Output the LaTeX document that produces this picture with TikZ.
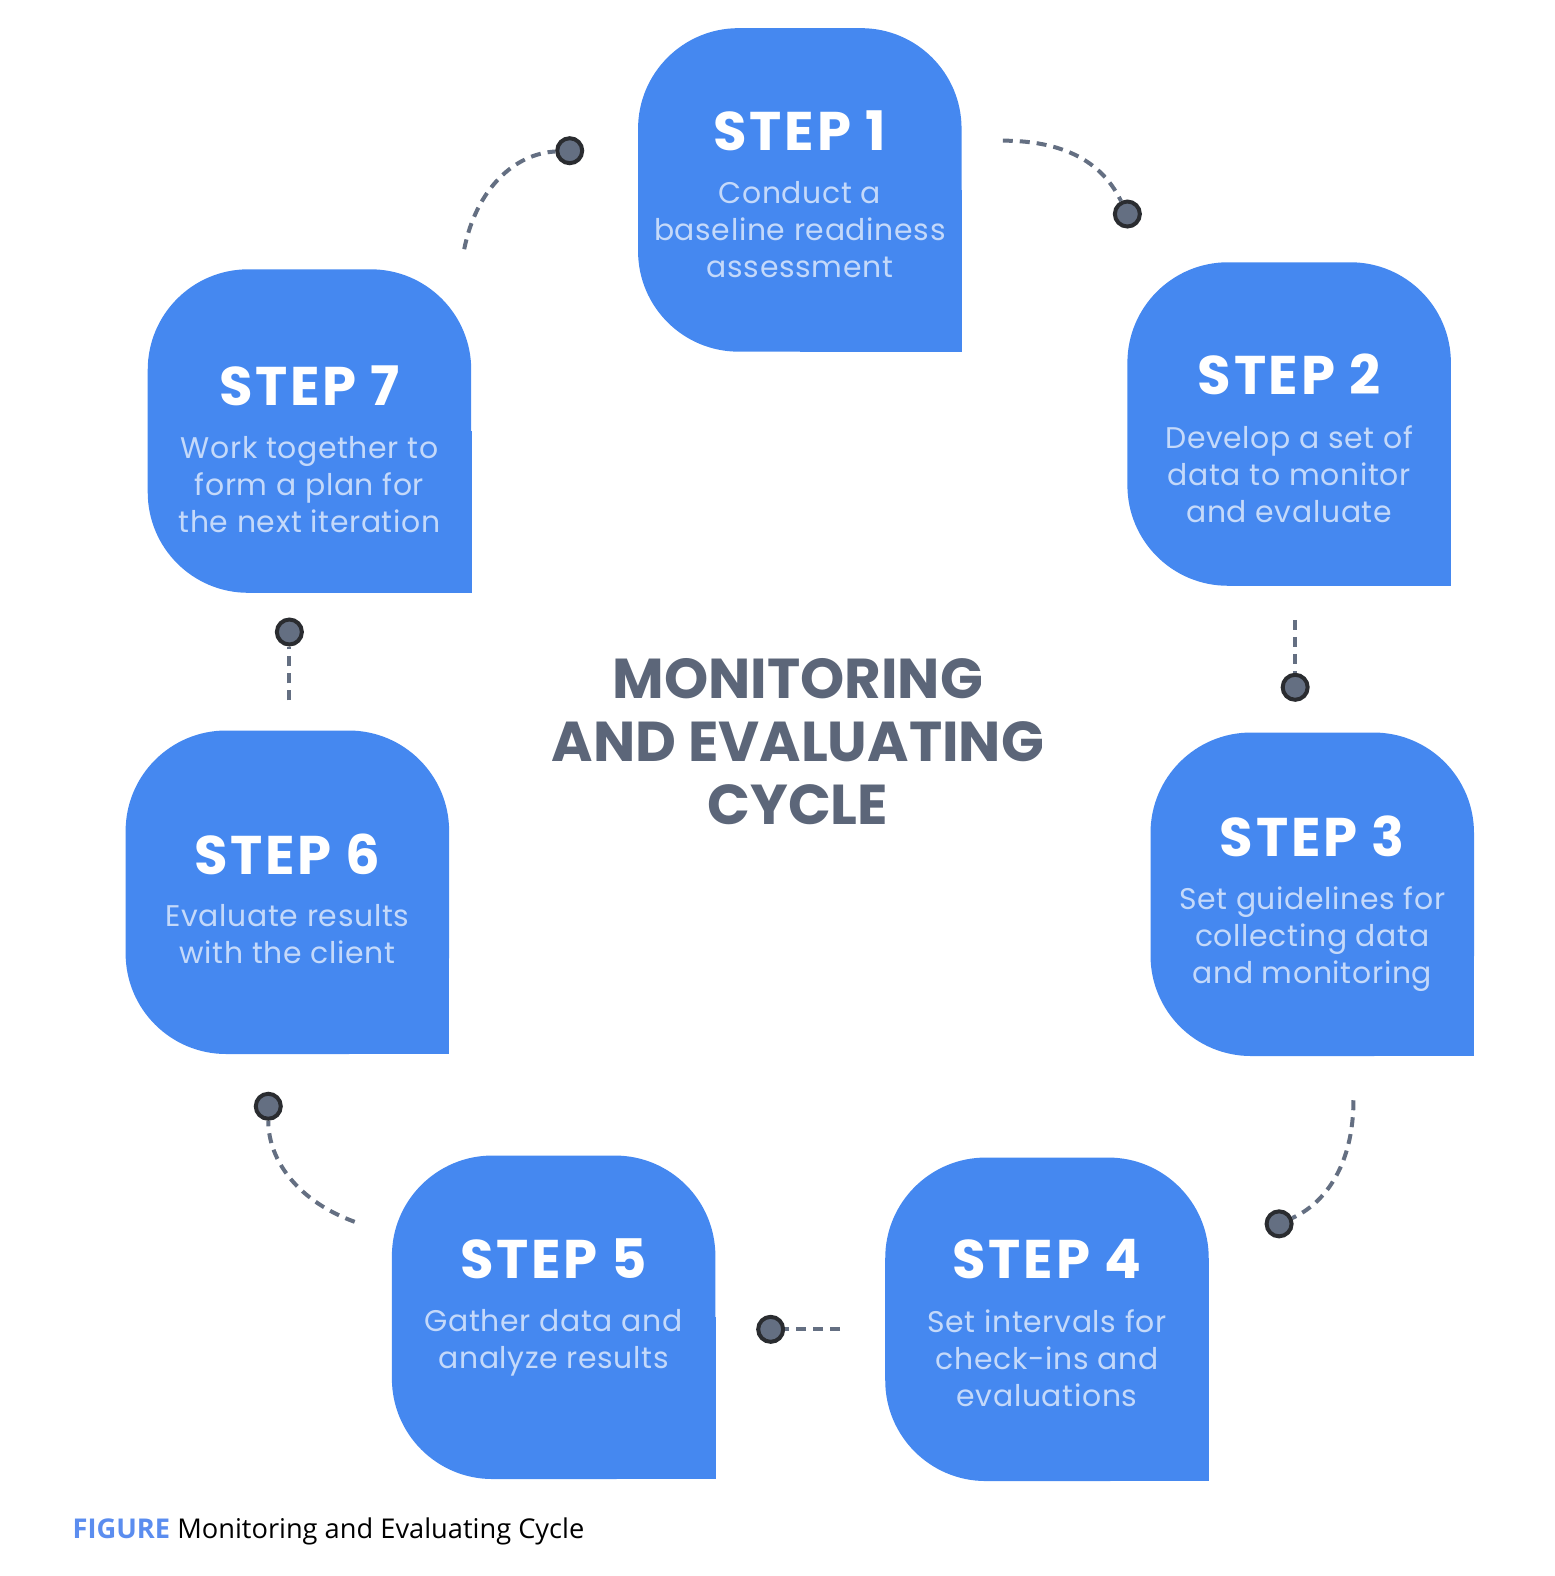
\documentclass[tikz,border=0pt]{standalone}
\usepackage{fontspec}
\setmainfont{Poppins}
\newfontfamily\capfont{Open Sans}
\usetikzlibrary{calc}
\usetikzlibrary{positioning}
\definecolor{stepblue}{HTML}{4588F0}
\definecolor{steplight}{HTML}{C4D9FA}
\definecolor{titlegray}{HTML}{5C6679}
\definecolor{linkgray}{HTML}{646F82}
\definecolor{dotedge}{HTML}{2A2C30}
\definecolor{figblue}{HTML}{5B8DEF}
\tikzstyle{stepshape}=[fill=stepblue,rounded corners=2.01cm,minimum width=6.47cm,minimum height=6.47cm,inner sep=0pt]
\tikzstyle{steptitle}=[text=white,inner sep=0pt,font=\fontsize{31}{31}\selectfont\bfseries\addfontfeature{LetterSpace=5}]
\tikzstyle{steptext}=[text=steplight,inner sep=0pt,anchor=north,align=center,font=\fontsize{17}{21.1}\selectfont\addfontfeature{LetterSpace=2.2}]
\tikzstyle{link}=[draw=linkgray,line width=0.08cm,dash pattern=on 0.2cm off 0.14cm]
\tikzstyle{linkdot}=[circle,fill=linkgray,draw=dotedge,line width=0.08cm,minimum size=0.5cm,inner sep=0pt]
\newcommand{\stepbox}[6]{
  % #1 name, (#2,#3) top left corner, #4 offset of the title, #5 title, #6 text
  \node[stepshape] (#1) at (#2+161,#3+161) {};
  \fill[stepblue] (#1.center) rectangle (#1.south east); % square corner
  \node[steptitle] (#1title) at (#2+161,#3+#4) {#5};
  \node[steptext] (#1text) at (#2+161,#3+#4+50) {#6};
}

\begin{document}
\begin{tikzpicture}[x=0.0201cm,y=-0.0201cm]
	\useasboundingbox (0,0) rectangle (31.08cm,-31.52cm);
	\stepbox{s1}{635}{28}{102}{STEP 1}{Conduct a\\baseline readiness\\assessment}
	\stepbox{s2}{1122}{261}{112}{STEP 2}{Develop a set of\\data to monitor\\and evaluate}
	\stepbox{s3}{1145}{729}{103}{STEP 3}{Set guidelines for\\collecting data\\and monitoring}
	\stepbox{s4}{881}{1152}{101}{STEP 4}{Set intervals for\\check-ins and\\evaluations}
	\stepbox{s5}{390}{1150}{103}{STEP 5}{Gather data and\\analyze results}
	\stepbox{s6}{125}{727}{123}{STEP 6}{Evaluate results\\with the client}
	\stepbox{s7}{147}{268}{116}{STEP 7}{Work together to\\form a plan for\\the next iteration}
	\node[text=titlegray,inner sep=0pt,align=center,font=\fontsize{32}{35.9}\selectfont\bfseries] (cycle) at (794,738) {MONITORING\\AND EVALUATING\\CYCLE};
	% dots and dashed links
	\node[linkdot] (d12) at (1122,213) {};
	\node[linkdot] (d23) at (1289,684) {};
	\node[linkdot] (d34) at (1273,1218) {};
	\node[linkdot] (d45) at (767,1323) {};
	\node[linkdot] (d56) at (267,1101) {};
	\node[linkdot] (d67) at (288,629) {};
	\node[linkdot] (d71) at (567,150) {};
	\coordinate (e12) at (998,140);
	\coordinate (e23) at (1289,617);
	\coordinate (e34) at (1347,1095);
	\coordinate (e45) at (836,1323);
	\coordinate (e56) at (353,1216);
	\coordinate (e67) at (288,697);
	\coordinate (e71) at (462,248);
	\draw[link] (e12) .. controls +(70,0) and +(-22,-45) .. (d12);
	\draw[link] (e23) -- (d23);
	\draw[link] (e34) .. controls +(0,65) and +(45,-20) .. (d34);
	\draw[link] (e45) -- (d45);
	\draw[link] (e56) .. controls +(-55,-20) and +(0,55) .. (d56);
	\draw[link] (e67) -- (d67);
	\draw[link] (e71) .. controls +(12,-60) and +(-55,3) .. (d71);
	\node[anchor=base west,inner sep=0pt,font=\capfont\fontsize{15.5}{18}\selectfont] (caption) at (72,1531) {\textcolor{figblue}{\bfseries FIGURE} Monitoring and Evaluating Cycle};
\end{tikzpicture}
\end{document}
